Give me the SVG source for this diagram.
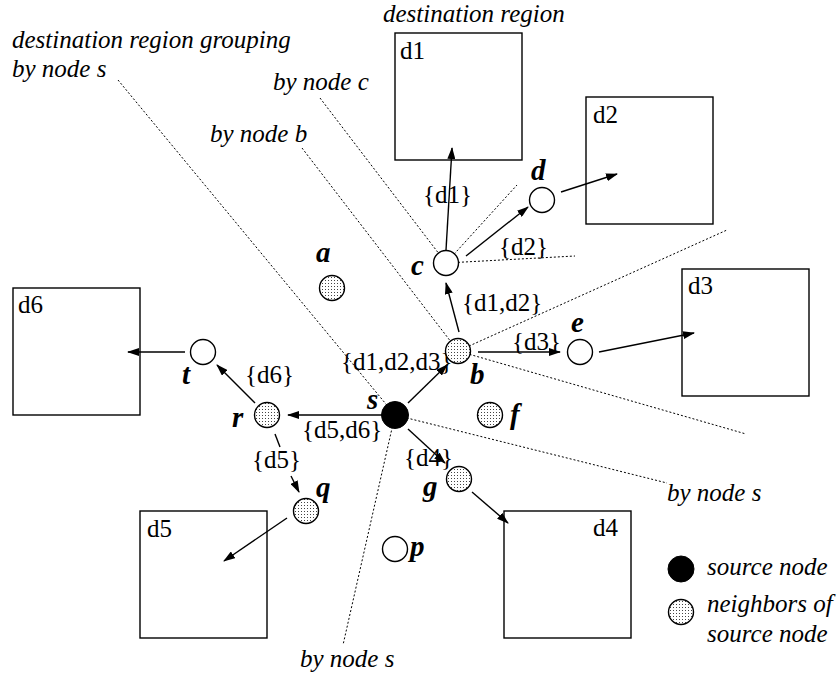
<svg xmlns="http://www.w3.org/2000/svg" width="840" height="683" viewBox="0 0 840 683" font-family="'Liberation Serif', 'DejaVu Serif', serif">
<style>
text{font-family:'Liberation Serif','DejaVu Serif',serif;fill:#000}
.lbl{font-size:25px}
.it{font-size:25px;font-style:italic}
.nl{font-size:29px;font-style:italic;font-weight:bold}
.box{fill:none;stroke:#000;stroke-width:1.4}
.dot{fill:none;stroke:#000;stroke-width:1;stroke-dasharray:2 2}
.arr{fill:none;stroke:#000;stroke-width:1.4;marker-end:url(#ah)}
.ln{fill:none;stroke:#000;stroke-width:1.4}
.open{fill:#fff;stroke:#000;stroke-width:1.4}
.nb{fill:url(#stip);stroke:#000;stroke-width:1.4}
.src{fill:#000;stroke:#000;stroke-width:1}
</style>
<defs>
<marker id="ah" markerWidth="12" markerHeight="8" refX="11" refY="4" orient="auto" markerUnits="userSpaceOnUse">
<path d="M0,0 L12,4 L0,8 Z" fill="#000"/>
</marker>
<pattern id="stip" width="3" height="3" patternUnits="userSpaceOnUse">
<rect width="3" height="3" fill="#fff"/>
<rect x="1" y="1" width="1" height="1" fill="#444"/>
</pattern>
</defs>
<rect width="840" height="683" fill="#fff"/>

<g id="captions">
<text class="it" x="12" y="48">destination region grouping</text>
<text class="it" x="12" y="77">by node s</text>
<text class="it" x="383" y="22">destination region</text>
<text class="it" x="273" y="90">by node c</text>
<text class="it" x="210" y="142">by node b</text>
<text class="it" x="667" y="501">by node s</text>
<text class="it" x="300" y="667">by node s</text>
</g>

<g id="connectors">
<line class="dot" x1="118" y1="80" x2="395" y2="415"/>
<line class="dot" x1="395" y1="415" x2="667" y2="483"/>
<line class="dot" x1="395" y1="415" x2="343" y2="645"/>
<line class="dot" x1="302" y1="148" x2="458" y2="351"/>
<line class="dot" x1="458" y1="351" x2="727" y2="230"/>
<line class="dot" x1="458" y1="351" x2="746" y2="434"/>
<line class="dot" x1="320" y1="98" x2="446" y2="263"/>
<line class="dot" x1="446" y1="263" x2="517" y2="185"/>
<line class="dot" x1="446" y1="263" x2="575" y2="256"/>

<line class="arr" x1="408" y1="403" x2="447" y2="365"/>
<line class="arr" x1="382" y1="415" x2="288" y2="415"/>
<line class="arr" x1="408" y1="429" x2="445" y2="463"/>
<line class="arr" x1="459" y1="332" x2="446" y2="283"/>
<line class="arr" x1="478" y1="352" x2="560" y2="352"/>
<line class="arr" x1="446" y1="250" x2="452" y2="148"/>
<line class="arr" x1="466" y1="256" x2="528" y2="207"/>
<line class="arr" x1="561" y1="192" x2="617" y2="174"/>
<line class="arr" x1="599" y1="352" x2="694" y2="333"/>
<line class="arr" x1="255" y1="403" x2="217" y2="365"/>
<line class="arr" x1="185" y1="352" x2="128" y2="352"/>
<line class="ln" x1="275" y1="434" x2="280" y2="447"/>
<line class="arr" x1="291" y1="476" x2="299" y2="492"/>
<line class="arr" x1="287" y1="518" x2="224" y2="561"/>
<line class="arr" x1="472" y1="492" x2="508" y2="523"/>

<text class="lbl" x="423" y="203">{d1}</text>
<text class="lbl" x="499" y="255">{d2}</text>
<text class="lbl" x="462" y="311">{d1,d2}</text>
<text class="lbl" x="512" y="350">{d3}</text>
<text class="lbl" x="341" y="370">{d1,d2,d3}</text>
<text class="lbl" x="245" y="383">{d6}</text>
<text class="lbl" x="302" y="438">{d5,d6}</text>
<text class="lbl" x="252" y="468">{d5}</text>
<text class="lbl" x="404" y="466">{d4}</text>
</g>

<g id="region-d1"><rect class="box" x="395" y="33" width="127" height="127"/><text class="lbl" x="400" y="59">d1</text></g>
<g id="region-d2"><rect class="box" x="586" y="97" width="127" height="127"/><text class="lbl" x="593" y="123">d2</text></g>
<g id="region-d3"><rect class="box" x="682" y="269" width="127" height="127"/><text class="lbl" x="688" y="294">d3</text></g>
<g id="region-d4"><rect class="box" x="504" y="511" width="127" height="127"/><text class="lbl" x="593" y="536">d4</text></g>
<g id="region-d5"><rect class="box" x="140" y="511" width="127" height="127"/><text class="lbl" x="147" y="537">d5</text></g>
<g id="region-d6"><rect class="box" x="13" y="288" width="127" height="127"/><text class="lbl" x="18" y="313">d6</text></g>

<g id="node-s"><circle class="src" cx="395" cy="415" r="13.5"/><text class="nl" x="367" y="409">s</text></g>
<g id="node-a"><circle class="nb" cx="332" cy="288" r="12.5"/><text class="nl" x="316" y="262">a</text></g>
<g id="node-b"><circle class="nb" cx="458" cy="351" r="12.5"/><text class="nl" x="470" y="384">b</text></g>
<g id="node-c"><circle class="open" cx="446" cy="263" r="12.5"/><text class="nl" x="411" y="275">c</text></g>
<g id="node-d"><circle class="open" cx="542" cy="200" r="12.5"/><text class="nl" x="531" y="180">d</text></g>
<g id="node-e"><circle class="open" cx="580" cy="352" r="12.5"/><text class="nl" x="571" y="332">e</text></g>
<g id="node-f"><circle class="nb" cx="490" cy="415" r="12.5"/><text class="nl" x="510" y="424">f</text></g>
<g id="node-g"><circle class="nb" cx="459" cy="479" r="12.5"/><text class="nl" x="423" y="496">g</text></g>
<g id="node-p"><circle class="open" cx="395" cy="549" r="12.5"/><text class="nl" x="410" y="556">p</text></g>
<g id="node-q"><circle class="nb" cx="306" cy="511" r="12.5"/><text class="nl" x="316" y="497">q</text></g>
<g id="node-r"><circle class="nb" cx="267" cy="415" r="12.5"/><text class="nl" x="232" y="427">r</text></g>
<g id="node-t"><circle class="open" cx="203" cy="352" r="12.5"/><text class="nl" x="182" y="384">t</text></g>

<g id="legend">
<circle class="src" cx="681" cy="569" r="13"/>
<text class="it" x="707" y="575">source node</text>
<circle class="nb" cx="681" cy="612" r="12.5"/>
<text class="it" x="707" y="612">neighbors of</text>
<text class="it" x="707" y="642">source node</text>
</g>
</svg>
